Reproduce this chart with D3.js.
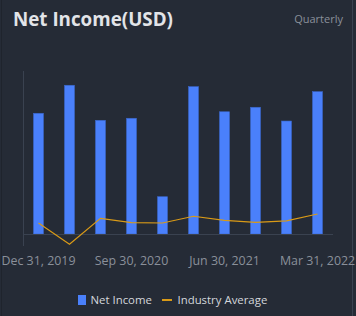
<!DOCTYPE html>
<html><head><meta charset="utf-8">
<script src="https://cdn.jsdelivr.net/npm/d3@7/dist/d3.min.js"></script>
<style>html,body{margin:0;padding:0;background:#252b36;}svg{display:block;}</style>
</head><body><svg id="c" width="356" height="316"></svg>
<script>
const categories = ["Dec 31, 2019","Mar 31, 2020","Jun 30, 2020","Sep 30, 2020","Dec 31, 2020","Mar 31, 2021","Jun 30, 2021","Sep 30, 2021","Dec 31, 2021","Mar 31, 2022"];
const netIncome = [118.5, 146, 111.6, 113.6, 36.6, 144.6, 120, 124.4, 110.9, 139.7];
const industryAverage = [10.8, -10.1, 15.4, 11.1, 10.8, 17.4, 13.4, 11.5, 12.8, 19.6];
const tickLabels = ["Dec 31, 2019","Sep 30, 2020","Jun 30, 2021","Mar 31, 2022"];

const svg = d3.select("#c");
const W = 356, H = 316;
svg.append("rect").attr("width", W).attr("height", H).attr("fill", "#252b36");
svg.append("line").attr("x1", 352.5).attr("x2", 352.5).attr("y1", 0).attr("y2", H).attr("stroke", "#3a4250").attr("stroke-width", 1);
svg.append("line").attr("x1", 1.5).attr("x2", 1.5).attr("y1", 0).attr("y2", H).attr("stroke", "#1f242d").attr("stroke-width", 1);

svg.append("text").attr("x", 13).attr("y", 26).attr("fill", "#e2e4e8")
  .attr("font-family", "'Open Sans', 'DejaVu Sans', sans-serif").attr("font-weight", "bold").attr("font-size", 18.8)
  .text("Net Income(USD)");
svg.append("text").attr("x", 343).attr("y", 23).attr("fill", "#8a909a").attr("text-anchor", "end")
  .attr("font-family", "'Open Sans', sans-serif").attr("font-size", 11).text("Quarterly");

const x = d3.scaleBand().domain(categories).range([23, 333]).paddingInner(0.677).paddingOuter(0.338);
const y = d3.scaleLinear().domain([0, 160]).range([234, 71]);

// y axis line
svg.append("line").attr("x1", 23.5).attr("x2", 23.5).attr("y1", 71).attr("y2", 246).attr("stroke", "#3a4250");

svg.append("g").selectAll("rect").data(netIncome).join("rect")
  .attr("x", (d, i) => x(categories[i]))
  .attr("y", d => y(d))
  .attr("width", x.bandwidth())
  .attr("height", d => y(0) - y(d))
  .attr("fill", "#4a80fb").attr("stroke", "#3a66c8").attr("stroke-width", 0.6);

// baseline
svg.append("line").attr("x1", 23).attr("x2", 333).attr("y1", 234.5).attr("y2", 234.5).attr("stroke", "#3a4250");

const line = d3.line().x((d, i) => x(categories[i]) + x.bandwidth() / 2).y(d => y(d));
svg.append("path").datum(industryAverage).attr("d", line).attr("fill", "none")
  .attr("stroke", "#d99a17").attr("stroke-width", 1.2);

const xAxis = d3.axisBottom(x).tickValues(tickLabels).tickSize(0).tickPadding(0);
const gx = svg.append("g").attr("transform", "translate(0,252.5)").call(xAxis);
gx.select(".domain").remove();
gx.selectAll("text").attr("fill", "#8a909a").attr("font-size", 12.4)
  .attr("font-family", "'Open Sans', 'DejaVu Sans', sans-serif").attr("dy", "1em");

// legend
const lg = svg.append("g");
lg.append("rect").attr("x", 78).attr("y", 295).attr("width", 8).attr("height", 10).attr("fill", "#4a80fb");
lg.append("text").attr("x", 90.5).attr("y", 304).attr("fill", "#d4d7dc").attr("font-size", 11.4)
  .attr("font-family", "'Open Sans', sans-serif").text("Net Income");
lg.append("line").attr("x1", 162).attr("x2", 172).attr("y1", 300).attr("y2", 300).attr("stroke", "#d99a17").attr("stroke-width", 2);
lg.append("text").attr("x", 177.5).attr("y", 304).attr("fill", "#d4d7dc").attr("font-size", 11.4)
  .attr("font-family", "'Open Sans', sans-serif").text("Industry Average");
</script></body></html>
